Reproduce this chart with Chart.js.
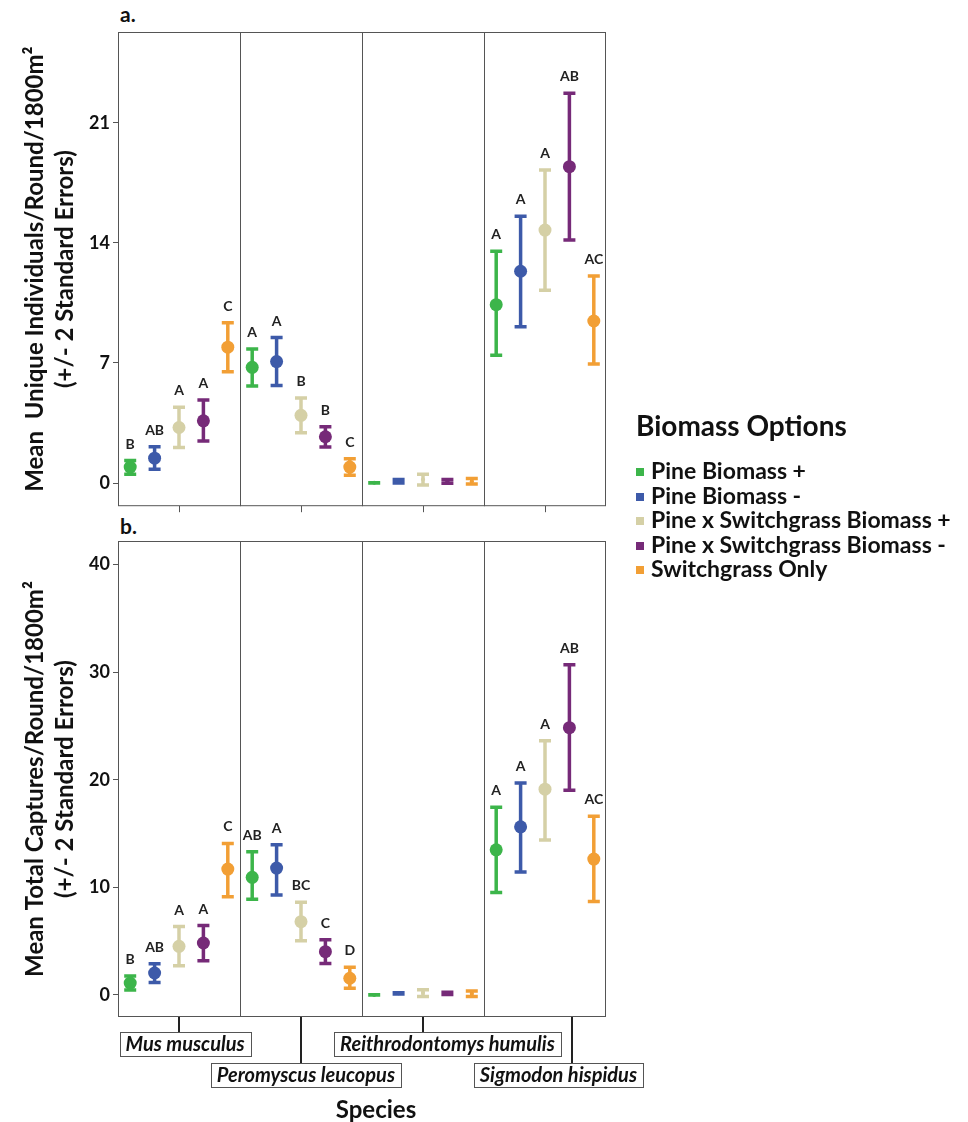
<!DOCTYPE html>
<html>
<head>
<meta charset="utf-8">
<script src="https://cdn.jsdelivr.net/npm/chart.js@4"></script>
<style>
  body { margin: 0; background: #fff; width: 968px; height: 1122px; position: relative; font-family: Lato, sans-serif; color: #111; }
  canvas { position: absolute; left: 0; }
  #chartA { top: 0; }
  #chartB { top: 512px; }
  .panel-tag { position: absolute; left: 120px; font-weight: bold; font-size: 21px; }
  #legend { position: absolute; left: 636px; top: 408px; }
  #legend h3 { margin: 0 0 16px 0; font-size: 28px; line-height: 34px; font-weight: bold; }
  #legend div { font-size: 23px; font-weight: bold; height: 24.5px; line-height: 24.5px; white-space: nowrap; }
  #legend span { display: inline-block; width: 8px; height: 8px; margin-right: 7px; vertical-align: 3px; }
</style>
</head>
<body>
<div class="panel-tag" style="top:1px">a.</div>
<div class="panel-tag" style="top:513px">b.</div>
<canvas id="chartA" width="620" height="520"></canvas>
<canvas id="chartB" width="660" height="610"></canvas>
<div id="legend"><h3>Biomass Options</h3></div>
<script>
// Données
const species = ['Mus musculus', 'Peromyscus leucopus', 'Reithrodontomys humulis', 'Sigmodon hispidus'];
const treatments = ['Pine Biomass +', 'Pine Biomass -', 'Pine x Switchgrass Biomass +', 'Pine x Switchgrass Biomass -', 'Switchgrass Only'];
const colors = ['#3cb54a', '#3d5aa9', '#d5d0a6', '#762a78', '#f29f35'];

// a. individus uniques (lignes = traitements, colonnes = espèces)
const uniqueMean = [
  [0.93, 6.75, 0.02, 10.4],
  [1.45, 7.08, 0.12, 12.35],
  [3.24, 3.95, 0.2, 14.75],
  [3.63, 2.7, 0.1, 18.45],
  [7.92, 0.93, 0.1, 9.45]
];
const uniqueLow = [
  [0.42, 5.57, -0.08, 7.37],
  [0.72, 5.6, -0.08, 9.02],
  [1.98, 2.85, -0.2, 11.15],
  [2.37, 2.02, -0.1, 14.08],
  [6.4, 0.37, -0.15, 6.86]
];
const uniqueHigh = [
  [1.4, 7.9, 0.1, 13.61],
  [2.2, 8.57, 0.3, 15.65],
  [4.5, 5.04, 0.6, 18.34],
  [4.93, 3.37, 0.3, 22.82],
  [9.44, 1.5, 0.35, 12.16]
];
const uniqueLetters = [
  ['B', 'A', '', 'A'],
  ['AB', 'A', '', 'A'],
  ['A', 'B', '', 'A'],
  ['A', 'B', '', 'AB'],
  ['C', 'C', '', 'AC']
];
const uniqueTicks = [0, 7, 14, 21];

// b. captures totales
const captureMean = [
  [1.1, 10.93, 0.0, 13.49],
  [2.04, 11.79, 0.15, 15.63],
  [4.52, 6.81, 0.2, 19.13],
  [4.83, 4.02, 0.15, 24.85],
  [11.7, 1.55, 0.1, 12.63]
];
const captureLow = [
  [0.31, 8.76, -0.15, 9.38],
  [1.02, 9.16, -0.05, 11.3],
  [2.57, 4.89, -0.28, 14.27],
  [3.03, 2.79, -0.1, 18.88],
  [8.98, 0.49, -0.28, 8.54]
];
const captureHigh = [
  [1.89, 13.46, 0.15, 17.58],
  [3.03, 14.11, 0.35, 19.84],
  [6.5, 8.76, 0.62, 23.77],
  [6.59, 5.26, 0.4, 30.83],
  [14.23, 2.72, 0.5, 16.74]
];
const captureLetters = [
  ['B', 'AB', '', 'A'],
  ['AB', 'A', '', 'A'],
  ['A', 'BC', '', 'A'],
  ['A', 'C', '', 'AB'],
  ['C', 'D', '', 'AC']
];
const captureTicks = [0, 10, 20, 30, 40];

// décalage des traitements dans chaque espèce
const dodge = [-0.4, -0.2, 0, 0.2, 0.4];
// position des étiquettes d'espèces sous le panneau b
const labelLine = [0, 1, 2, 3.22];
const labelCenter = [0.05, 1.04, 2.2, 3.11];
const labelRow = [0, 1, 0, 1];

const FONT = 'Lato, sans-serif';

// Barres d'erreur + lettres
const errorBars = {
  id: 'errorBars',
  beforeDatasetsDraw(chart, args, opts) {
    const {ctx, scales: {x, y}} = chart;
    ctx.save();
    ctx.lineWidth = 3.5;
    ctx.lineCap = 'butt';
    chart.data.datasets.forEach((ds, t) => {
      ctx.strokeStyle = colors[t];
      ds.data.forEach((pt, s) => {
        const px = x.getPixelForValue(pt.x);
        const top = y.getPixelForValue(opts.high[t][s]);
        const bot = y.getPixelForValue(opts.low[t][s]);
        ctx.beginPath();
        ctx.moveTo(px, top); ctx.lineTo(px, bot);
        ctx.moveTo(px - 6, top + 1.5); ctx.lineTo(px + 6, top + 1.5);
        ctx.moveTo(px - 6, bot - 1.5); ctx.lineTo(px + 6, bot - 1.5);
        ctx.stroke();
      });
    });
    ctx.restore();
  },
  afterDatasetsDraw(chart, args, opts) {
    const {ctx, scales: {x, y}} = chart;
    ctx.save();
    ctx.fillStyle = '#222';
    ctx.font = 'bold 14px ' + FONT;
    ctx.textAlign = 'center';
    ctx.textBaseline = 'bottom';
    chart.data.datasets.forEach((ds, t) => {
      ds.data.forEach((pt, s) => {
        const txt = opts.letters[t][s];
        if (!txt) return;
        ctx.fillText(txt, x.getPixelForValue(pt.x), y.getPixelForValue(opts.high[t][s]) - 8);
      });
    });
    ctx.restore();
  }
};

// Cadre et séparateurs entre espèces
const frame = {
  id: 'frame',
  afterDraw(chart, args, opts) {
    const {ctx, chartArea: a, scales: {x}} = chart;
    ctx.save();
    ctx.strokeStyle = '#555';
    ctx.lineWidth = 1;
    ctx.strokeRect(a.left + 0.5, a.top + 0.5, a.right - a.left - 1, a.bottom - a.top - 1);
    [0.5, 1.5, 2.5].forEach(v => {
      const px = Math.round(x.getPixelForValue(v)) + 0.5;
      ctx.beginPath(); ctx.moveTo(px, a.top); ctx.lineTo(px, a.bottom); ctx.stroke();
    });
    if (opts.speciesLabels) {
      ctx.font = 'italic bold 20px ' + FONT;
      ctx.textAlign = 'center';
      ctx.textBaseline = 'middle';
      species.forEach((name, i) => {
        const boxTop = a.bottom + 15 + labelRow[i] * 31;
        const lx = Math.round(x.getPixelForValue(labelLine[i]));
        ctx.strokeStyle = '#222';
        ctx.lineWidth = 2;
        ctx.beginPath(); ctx.moveTo(lx, a.bottom); ctx.lineTo(lx, boxTop); ctx.stroke();
        const cx = x.getPixelForValue(labelCenter[i]);
        const w = ctx.measureText(name).width + 12;
        ctx.strokeStyle = '#555';
        ctx.lineWidth = 1;
        ctx.fillStyle = '#fff';
        ctx.fillRect(cx - w / 2, boxTop, w, 24);
        ctx.strokeRect(Math.round(cx - w / 2) + 0.5, boxTop + 0.5, Math.round(w), 24);
        ctx.fillStyle = '#111';
        ctx.fillText(name, cx, boxTop + 12.5);
      });
      // titre de l'axe des x
      ctx.font = 'bold 24px ' + FONT;
      ctx.fillText('Species', (a.left + a.right) / 2 + 14, chart.height - 12);
    }
    ctx.restore();
  }
};

function makeChart(id, mean, low, high, letters, ticks, yMin, yMax, yTitle, bottomAxis) {
  const datasets = treatments.map((name, t) => ({
    label: name,
    data: species.map((sp, s) => ({x: s + dodge[t], y: mean[t][s]})),
    backgroundColor: colors[t],
    borderColor: colors[t],
    pointRadius: c => c.dataIndex === 2 ? 2 : 6.5,
    pointBorderWidth: 0,
    showLine: false
  }));
  return new Chart(document.getElementById(id), {
    type: 'scatter',
    data: {datasets},
    plugins: [errorBars, frame],
    options: {
      responsive: false,
      animation: false,
      layout: {padding: {top: bottomAxis ? 29 : 32, right: bottomAxis ? 54 : 14, left: 0, bottom: 0}},
      plugins: {
        legend: {display: false},
        tooltip: {enabled: false},
        errorBars: {low, high, letters},
        frame: {speciesLabels: bottomAxis}
      },
      scales: {
        x: {
          type: 'linear', min: -0.5, max: 3.5,
          afterBuildTicks: s => { s.ticks = species.map((_, i) => ({value: i})); },
          afterFit: s => { s.height = bottomAxis ? 105 : 12; },
          ticks: {display: false},
          grid: {display: !bottomAxis, drawOnChartArea: false, tickLength: 6, color: '#555'},
          border: {display: false}
        },
        y: {
          type: 'linear', min: yMin, max: yMax,
          afterBuildTicks: s => { s.ticks = ticks.map(v => ({value: v})); },
          afterFit: s => { s.width = 118; },
          ticks: {color: '#111', padding: 3, font: {family: FONT, size: 18, weight: 'bold'}},
          grid: {drawOnChartArea: false, tickLength: 5, color: '#555'},
          border: {display: false},
          title: {
            display: true, text: yTitle, color: '#111',
            font: {family: FONT, size: 24, weight: 'bold', lineHeight: 1.25},
            padding: {top: 20, bottom: 0}
          }
        }
      }
    }
  });
}

makeChart('chartA', uniqueMean, uniqueLow, uniqueHigh, uniqueLetters, uniqueTicks, -1.35, 26.3,
  ['Mean  Unique Individuals/Round/1800m²', '(+/- 2 Standard Errors)'], false);
makeChart('chartB', captureMean, captureLow, captureHigh, captureLetters, captureTicks, -2.05, 42.2,
  ['Mean Total Captures/Round/1800m²', '(+/- 2 Standard Errors)'], true);

// Légende
const legend = document.getElementById('legend');
treatments.forEach((name, t) => {
  const row = document.createElement('div');
  row.innerHTML = `<span style="background:${colors[t]}"></span>${name}`;
  legend.appendChild(row);
});
</script>
</body>
</html>
